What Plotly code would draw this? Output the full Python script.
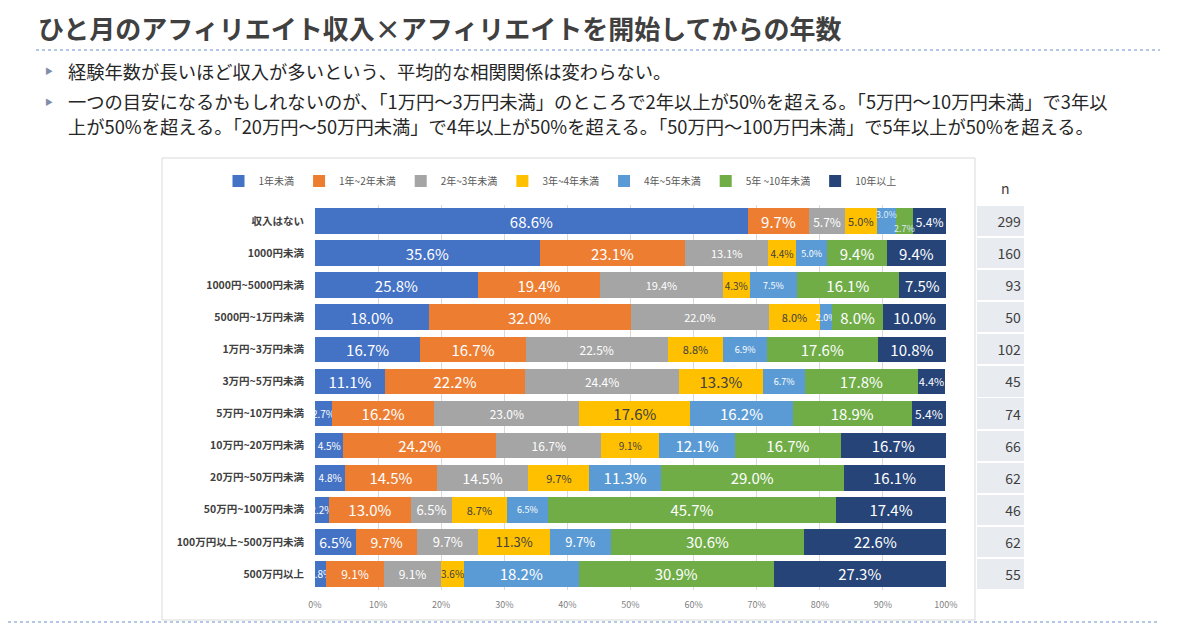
import plotly.graph_objects as go

categories = ["収入はない", "1000円未満", "1000円~5000円未満", "5000円~1万円未満",
              "1万円~3万円未満", "3万円~5万円未満", "5万円~10万円未満", "10万円~20万円未満",
              "20万円~50万円未満", "50万円~100万円未満", "100万円以上~500万円未満", "500万円以上"]
series_names = ["1年未満", "1年~2年未満", "2年~3年未満", "3年~4年未満", "4年~5年未満", "5年 ~10年未満", "10年以上"]

y_lt1 = [68.6, 35.6, 25.8, 18.0, 16.7, 11.1, 2.7, 4.5, 4.8, 2.2, 6.5, 1.8]
y_1_2 = [9.7, 23.1, 19.4, 32.0, 16.7, 22.2, 16.2, 24.2, 14.5, 13.0, 9.7, 9.1]
y_2_3 = [5.7, 13.1, 19.4, 22.0, 22.5, 24.4, 23.0, 16.7, 14.5, 6.5, 9.7, 9.1]
y_3_4 = [5.0, 4.4, 4.3, 8.0, 8.8, 13.3, 17.6, 9.1, 9.7, 8.7, 11.3, 3.6]
y_4_5 = [3.0, 5.0, 7.5, 2.0, 6.9, 6.7, 16.2, 12.1, 11.3, 6.5, 9.7, 18.2]
y_5_10 = [2.7, 9.4, 16.1, 8.0, 17.6, 17.8, 18.9, 16.7, 29.0, 45.7, 30.6, 30.9]
y_10p = [5.4, 9.4, 7.5, 10.0, 10.8, 4.4, 5.4, 16.7, 16.1, 17.4, 22.6, 27.3]
n_values = [299, 160, 93, 50, 102, 45, 74, 66, 62, 46, 62, 55]
x_ticks = [0, 10, 20, 30, 40, 50, 60, 70, 80, 90, 100]

# styles
colors = ["#4472C4", "#ED7D31", "#A5A5A5", "#FFC000", "#5B9BD5", "#70AD47", "#264478"]
text_colors = ["white", "white", "white", "#404040", "white", "white", "white"]
label_sizes = [
    [15, 15, 15, 15, 15, 15, 10, 10, 10, 10, 14, 10],
    [15, 15, 15, 15, 15, 15, 15, 15, 15, 15, 14, 12],
    [12, 11, 11, 11, 12, 12, 12, 12, 14, 13, 13, 12],
    [11, 10, 10, 11, 11, 15, 15, 10, 11, 11, 13, 10],
    [9, 9, 9, 9, 9, 9, 15, 15, 15, 9, 13, 15],
    [9, 15, 15, 15, 15, 15, 15, 15, 15, 15, 15, 15],
    [12, 15, 15, 15, 15, 11, 12, 15, 15, 15, 15, 15],
]
# labels drawn as shifted annotations instead of inside the bar: (series index, row index, vertical shift px)
shifted_labels = [(4, 0, -7), (5, 0, 7)]

series_values = [y_lt1, y_1_2, y_2_3, y_3_4, y_4_5, y_5_10, y_10p]

FONT = "Noto Sans CJK JP"
W, H = 1200, 630
OFF = 8  # page body margin offset compensation


def px(x):
    return (x - OFF) / W


def py(y):
    return (H - (y - OFF)) / H


fig = go.Figure()

shifted_keys = {(s, r) for s, r, _ in shifted_labels}
for si, (name, vals, col, tcol, sizes) in enumerate(zip(series_names, series_values, colors, text_colors, label_sizes)):
    texts = ["" if (si, ri) in shifted_keys else f"{v:.1f}%" for ri, v in enumerate(vals)]
    fig.add_trace(go.Bar(
        y=categories, x=vals, name=name, orientation="h",
        marker=dict(color=col, line=dict(width=0)),
        text=texts,
        textposition="inside", insidetextanchor="middle",
        textangle=0, constraintext="none",
        textfont=dict(color=tcol, size=sizes, family=FONT),
        width=0.8,
        hoverinfo="skip",
    ))

# n column
fig.add_trace(go.Bar(
    y=categories, x=[1] * len(n_values), orientation="h",
    xaxis="x2", yaxis="y",
    marker=dict(color="#E8EBF0", line=dict(width=0)),
    text=[str(v) for v in n_values], textposition="inside", insidetextanchor="end",
    textangle=0, constraintext="none",
    textfont=dict(color="#404040", size=14, family=FONT),
    width=0.94, showlegend=False, hoverinfo="skip",
))

fig.update_layout(
    width=W, height=H,
    margin=dict(l=0, r=0, t=0, b=0, autoexpand=False),
    paper_bgcolor="white", plot_bgcolor="white",
    barmode="stack",
    font=dict(family=FONT, color="#404040"),
    showlegend=True,
    legend=dict(orientation="h", x=px(560), xanchor="center", y=py(181), yanchor="middle",
                font=dict(size=10, color="#595959"), traceorder="normal",
                itemwidth=30, tracegroupgap=0),
    xaxis=dict(domain=[px(315), px(946)], range=[0, 100],
               tickvals=x_ticks, ticktext=[f"{t}%" for t in x_ticks],
               showgrid=True, gridcolor="#D9D9D9", gridwidth=1, zeroline=False,
               showline=False, ticks="", ticklabelstandoff=8, automargin=False,
               tickfont=dict(size=9, color="#7F7F7F"), fixedrange=True),
    xaxis2=dict(domain=[px(977), px(1024)], range=[0, 1], visible=False,
                fixedrange=True, automargin=False),
    yaxis=dict(domain=[py(590), py(205)], autorange="reversed",
               categoryorder="array", categoryarray=categories,
               ticks="", ticklabelstandoff=10, showline=False, showgrid=False, automargin=False,
               tickfont=dict(size=10.5, color="#404040", weight="bold"), fixedrange=True),
    bargap=0.2,
)

shapes = [
    # chart panel
    dict(type="rect", xref="paper", yref="paper", x0=px(162), x1=px(975),
         y0=py(620), y1=py(158),
         line=dict(color="#D9D9D9", width=1), fillcolor="rgba(0,0,0,0)", layer="below"),
    # dotted line under title
    dict(type="line", xref="paper", yref="paper", x0=px(36), x1=px(1160),
         y0=py(50), y1=py(50),
         line=dict(color="#B4C7E7", width=2, dash="dot")),
    # bottom dotted line
    dict(type="line", xref="paper", yref="paper", x0=0, x1=px(1160),
         y0=py(622), y1=py(622),
         line=dict(color="#B4C7E7", width=2, dash="dot")),
]
fig.update_layout(shapes=shapes)

annotations = [
    dict(text="<b>ひと月のアフィリエイト収入×アフィリエイトを開始してからの年数</b>",
         x=px(36), y=py(27), xref="paper", yref="paper",
         xanchor="left", yanchor="middle", showarrow=False,
         font=dict(size=26, color="#404040", family=FONT)),
    dict(text="▶", x=px(43), y=py(71), xref="paper", yref="paper",
         xanchor="left", yanchor="middle", showarrow=False,
         font=dict(size=8, color="#7F8FA9", family=FONT)),
    dict(text="経験年数が長いほど収入が多いという、平均的な相関関係は変わらない。",
         x=px(66), y=py(71), xref="paper", yref="paper",
         xanchor="left", yanchor="middle", showarrow=False,
         font=dict(size=18.3, color="#262626", family=FONT)),
    dict(text="▶", x=px(43), y=py(101), xref="paper", yref="paper",
         xanchor="left", yanchor="middle", showarrow=False,
         font=dict(size=8, color="#7F8FA9", family=FONT)),
    dict(text="一つの目安になるかもしれないのが、「1万円～3万円未満」のところで2年以上が50%を超える。「5万円～10万円未満」で3年以",
         x=px(66), y=py(101), xref="paper", yref="paper",
         xanchor="left", yanchor="middle", align="left", showarrow=False,
         font=dict(size=18.3, color="#262626", family=FONT)),
    dict(text="上が50%を超える。「20万円～50万円未満」で4年以上が50%を超える。「50万円～100万円未満」で5年以上が50%を超える。",
         x=px(66), y=py(126), xref="paper", yref="paper",
         xanchor="left", yanchor="middle", align="left", showarrow=False,
         font=dict(size=18.3, color="#262626", family=FONT)),
    dict(text="n", x=px(1005), y=py(188), xref="paper", yref="paper",
         xanchor="center", yanchor="middle", showarrow=False,
         font=dict(size=14, color="#404040", family=FONT)),
]

# shifted small labels, positioned at segment centres from the data
for si, ri, shift in shifted_labels:
    start = sum(series_values[k][ri] for k in range(si))
    val = series_values[si][ri]
    annotations.append(dict(
        text=f"{val:.1f}%", x=start + val / 2, y=categories[ri], xref="x", yref="y",
        xanchor="center", yanchor="middle", yshift=-shift, showarrow=False,
        font=dict(size=label_sizes[si][ri], color="#DDEBF7", family=FONT)))

fig.update_layout(annotations=annotations)

fig.write_html("out.html")
